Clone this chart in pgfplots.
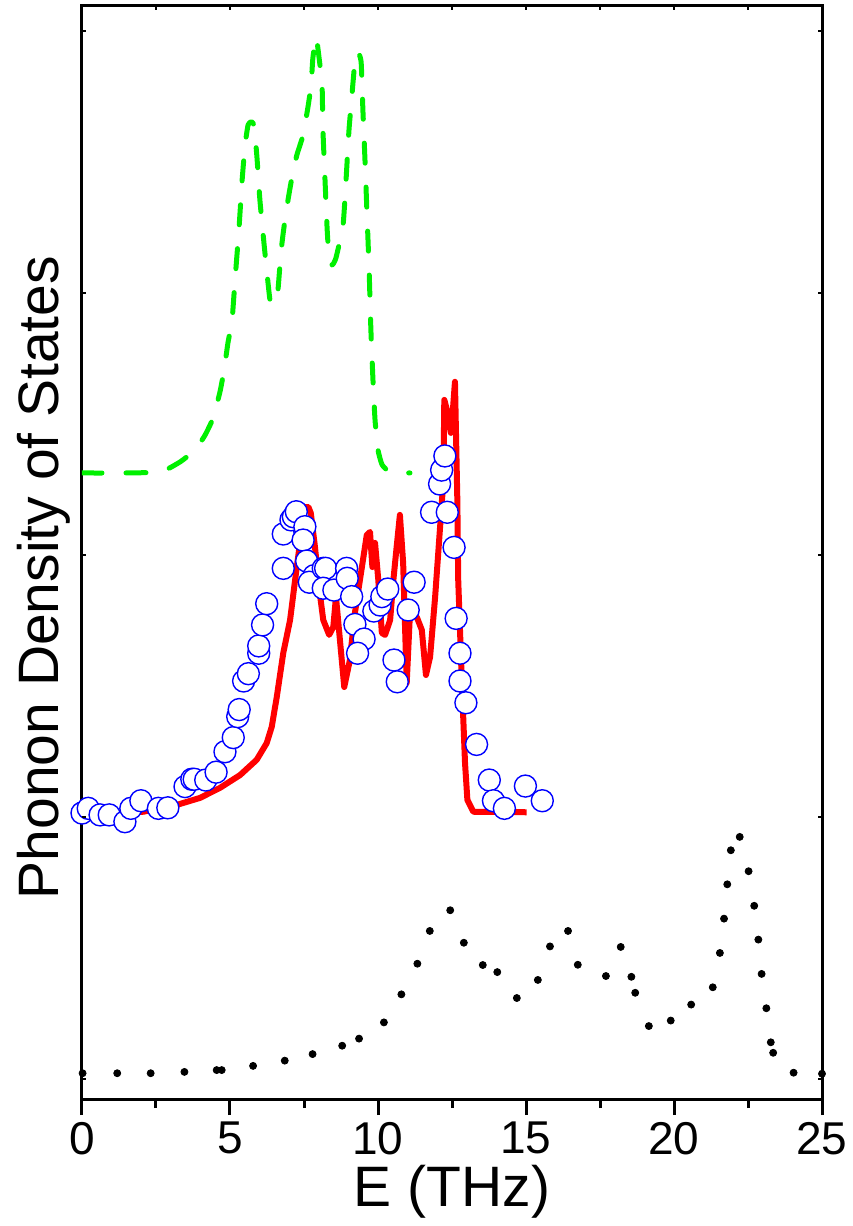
\documentclass[border=0pt]{standalone}
\usepackage{pgfplots}
\pgfplotsset{compat=1.18}
\usepackage{fontspec}
\setmainfont{Liberation Sans}
\definecolor{dgreen}{RGB}{0,240,0}
\definecolor{dred}{RGB}{255,0,0}
\definecolor{dblue}{RGB}{0,0,255}
\begin{document}
\begin{tikzpicture}
\begin{axis}[
  name=main,
  scale only axis,
  width=370pt, height=547pt,
  xmin=0, xmax=25, ymin=-0.0802, ymax=4.0954,
  axis line style={line width=1.5pt},
  xtick={0,5,10,15,20,25},
  minor x tick num=1,
  xtick pos=lower,
  ytick=\empty,
  tick align=outside,
  major tick length=7.5pt,
  minor tick length=4pt,
  every tick/.style={black, line width=1.5pt},
  /pgf/number format/assume math mode=true,
  xticklabel style={font=\fontsize{23}{23}\selectfont},
  xlabel={E (THz)},
  ylabel={Phonon Density of States},
  xlabel style={font=\fontsize{28.5}{30}\selectfont, at={(axis description cs:0.5,-0.0969)}, anchor=base},
  ylabel style={font=\fontsize{28.5}{30}\selectfont, at={(axis description cs:-0.0320,0.4776)}, anchor=base, rotate=0},
  clip=true,
]
\coordinate (o) at (rel axis cs:0,0);
% black dots
\addplot[only marks, mark=*, mark size=1.75pt, black] coordinates {
(0.02,0.022)(1.19,0.022)(2.32,0.022)(3.46,0.027)(4.55,0.034)(4.72,0.034)
(5.78,0.050)(6.85,0.070)(7.79,0.095)(8.79,0.127)(9.36,0.154)(10.20,0.216)
(10.79,0.323)(11.33,0.440)(11.75,0.565)(12.44,0.644)(12.90,0.520)(13.54,0.435)
(14.03,0.408)(14.69,0.309)(15.40,0.378)(15.81,0.506)(16.42,0.565)(16.75,0.436)
(17.70,0.393)(18.20,0.504)(18.56,0.390)(18.69,0.329)(19.15,0.202)(19.89,0.223)
(20.58,0.284)(21.31,0.350)(21.55,0.481)(21.69,0.612)(21.80,0.743)(21.92,0.873)
(22.22,0.924)(22.52,0.793)(22.71,0.661)(22.85,0.532)(22.96,0.401)(23.12,0.270)
(23.27,0.140)(23.35,0.100)(24.04,0.024)(25.0,0.020)
};
% green dashed
\addplot[color=dgreen, line width=2.5pt, line cap=round, line join=round, dash pattern=on 10pt off 12pt, smooth, tension=0.3] coordinates {
(0,2.313)(1.28,2.313)(2.64,2.317)(3.31,2.355)(3.82,2.401)(4.16,2.458)(4.43,2.523)
(4.66,2.622)(4.80,2.706)(4.93,2.809)(5.07,2.897)(5.17,3.050)(5.30,3.240)(5.41,3.431)
(5.51,3.565)(5.61,3.641)(5.71,3.653)(5.81,3.641)(5.91,3.519)(6.01,3.355)(6.18,3.153)
(6.35,2.973)(6.45,2.958)(6.59,2.973)(6.72,3.153)(6.82,3.248)(6.96,3.355)(7.09,3.439)
(7.26,3.527)(7.47,3.603)(7.64,3.714)(7.74,3.794)(7.80,3.897)(7.91,3.977)(8.01,3.897)
(8.11,3.794)(8.14,3.622)(8.21,3.431)(8.28,3.248)(8.34,3.145)(8.45,3.107)(8.58,3.134)
(8.82,3.260)(8.92,3.431)(9.02,3.622)(9.12,3.756)(9.22,3.882)(9.32,3.920)(9.43,3.882)
(9.49,3.698)(9.56,3.508)(9.63,3.298)(9.70,3.088)(9.76,2.859)(9.83,2.668)(9.90,2.515)
(10.00,2.401)(10.14,2.344)(10.41,2.317)(11.08,2.313)
};
% red line
\addplot[color=dred, line width=3pt, line join=round] coordinates {
(1.30,1.018)(2.07,1.020)(3.20,1.046)(3.99,1.073)(4.66,1.111)(5.34,1.160)(5.90,1.218)
(6.24,1.282)(6.41,1.344)(6.58,1.458)(6.80,1.626)(7.03,1.752)(7.20,1.905)(7.31,2.000)
(7.53,2.183)(7.65,2.183)(7.73,2.160)(7.87,2.031)(8.02,1.866)(8.15,1.752)(8.35,1.695)
(8.49,1.725)(8.58,1.840)(8.86,1.496)(9.05,1.599)(9.22,1.779)(9.39,1.905)(9.56,2.031)
(9.62,2.076)(9.73,2.088)(9.81,1.954)(9.90,2.046)(10.01,1.905)(10.13,1.702)(10.24,1.695)
(10.41,1.752)(10.52,1.905)(10.63,2.031)(10.74,2.153)(10.85,1.969)(10.97,1.511)(11.08,1.779)
(11.31,1.763)(11.48,1.714)(11.62,1.542)(11.76,1.611)(11.93,1.840)(12.09,2.095)(12.21,2.286)
(12.24,2.592)(12.33,2.553)(12.46,2.466)(12.53,2.553)(12.60,2.661)(12.68,2.210)(12.71,1.905)
(12.83,1.523)(12.94,1.206)(13.02,1.065)(13.22,1.020)(15.02,1.018)
};
% blue circles
\addplot[only marks, mark=*, mark size=5.5pt, mark options={fill=white, draw=dblue, line width=0.7pt}] coordinates {
(0.0,1.015)(0.21,1.033)(0.61,1.008)(0.92,1.008)(1.45,0.982)(1.65,1.033)(1.99,1.062)
(2.58,1.033)(2.90,1.035)(3.48,1.116)(3.71,1.144)(3.79,1.144)(4.18,1.141)(4.53,1.171)
(4.83,1.249)(5.11,1.303)(5.26,1.383)(5.31,1.410)(5.46,1.519)(5.62,1.547)(5.97,1.625)
(5.97,1.653)(6.10,1.733)(6.24,1.814)(6.80,1.949)(6.80,2.080)(7.06,2.134)(7.14,2.146)
(7.24,2.165)(7.53,2.108)(7.47,2.057)(7.59,1.977)(7.84,1.921)(7.68,1.896)(8.15,1.949)
(8.23,1.949)(8.15,1.873)(8.51,1.866)(8.94,1.949)(8.96,1.911)(9.11,1.841)(9.22,1.735)
(9.53,1.679)(9.31,1.625)(9.86,1.786)(10.07,1.809)(10.13,1.841)(10.33,1.870)(10.54,1.599)
(10.65,1.516)(11.02,1.790)(11.22,1.896)(11.81,2.163)(12.34,2.163)(12.08,2.271)(12.15,2.324)
(12.26,2.378)(12.57,2.029)(12.64,1.758)(12.77,1.625)(12.77,1.519)(12.97,1.436)(13.33,1.277)
(13.76,1.141)(13.90,1.062)(14.27,1.033)(14.98,1.118)(15.55,1.062)
};
\end{axis}
\begin{axis}[
  scale only axis,
  width=370pt, height=547pt,
  xmin=0, xmax=25, ymin=-0.0802, ymax=4.0954,
  axis line style={draw=none},
  xtick={2.5,5,...,22.5},
  ytick={0,1,2,3,4},
  xtick pos=upper,
  ytick pos=both,
  tick align=inside,
  major tick length=2pt,
  every tick/.style={black, line width=1pt},
  xticklabels={}, yticklabels={},
]
\end{axis}
\pgfresetboundingbox
\path (o) ++(-41pt,-63pt) rectangle ++(426pt,613pt);
\end{tikzpicture}
\end{document}
